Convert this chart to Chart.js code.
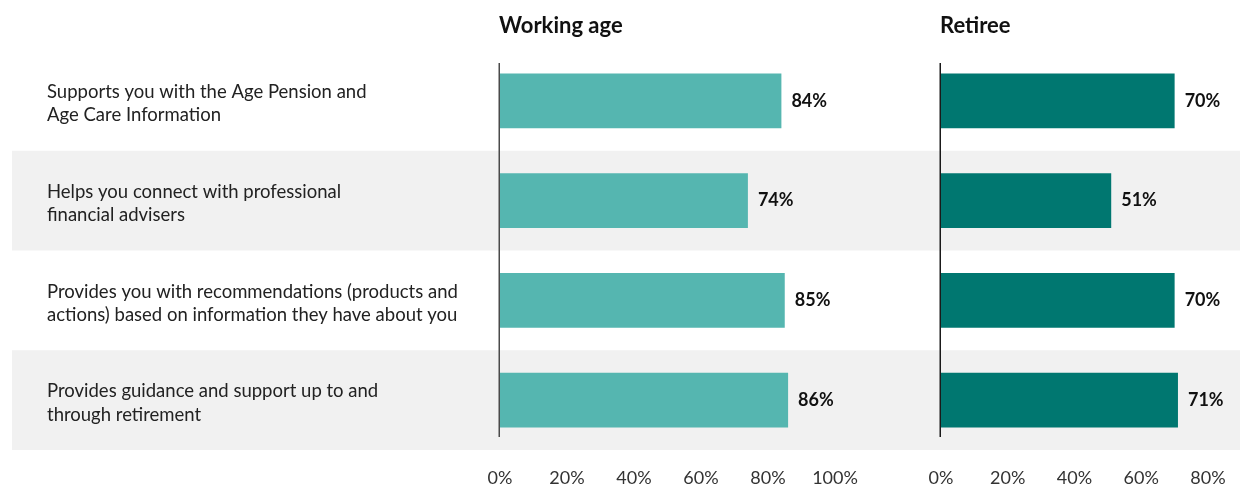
<!DOCTYPE html>
<html>
<head>
<meta charset="utf-8">
<script src="https://cdn.jsdelivr.net/npm/chart.js@4.4.1/dist/chart.umd.min.js"></script>
<style>
  html, body { margin: 0; padding: 0; background: #ffffff; }
  #wrap { position: relative; width: 1240px; height: 488px; overflow: hidden; }
  canvas { position: absolute; top: 0; }
  #working { left: 0; }
  #retiree { left: 880px; }
</style>
</head>
<body>
<div id="wrap">
  <canvas id="working" width="880" height="488"></canvas>
  <canvas id="retiree" width="360" height="488"></canvas>
</div>
<script>
// Statements about what a super fund should do, with share agreeing (%)
const categories = [
  ["Supports you with the Age Pension and", "Age Care Information"],
  ["Helps you connect with professional", "financial advisers"],
  ["Provides you with recommendations (products and", "actions) based on information they have about you"],
  ["Provides guidance and support up to and", "through retirement"]
];
const workingAge = [84, 74, 85, 86];
const retiree = [70, 51, 70, 71];
const workingTicks = [0, 20, 40, 60, 80, 100];
const retireeTicks = [0, 20, 40, 60, 80];

const FONT = "Lato, 'Open Sans', sans-serif";
const BAND = "#f1f1f1";

// Alternate grey row bands behind rows 2 and 4
function bandPlugin(startX) {
  return {
    id: "bands",
    beforeDraw(chart) {
      const { ctx, chartArea, scales } = chart;
      const y = scales.y;
      const step = (chartArea.bottom - chartArea.top) / categories.length;
      ctx.save();
      ctx.fillStyle = BAND;
      categories.forEach((_, i) => {
        if (i % 2 === 1) {
          const c = y.getPixelForValue(i);
          ctx.fillRect(startX, c - step / 2, chart.width - startX, step);
        }
      });
      ctx.restore();
    }
  };
}

// Panel heading, vertical baseline and value labels at bar ends
function panelPlugin(title, lineColor) {
  return {
    id: "panel",
    afterDatasetsDraw(chart) {
      const { ctx, chartArea } = chart;
      ctx.save();
      ctx.fillStyle = "#111";
      ctx.font = "bold 22px " + FONT;
      ctx.textAlign = "left";
      ctx.textBaseline = "middle";
      ctx.fillText(title, chartArea.left - 1, 26);

      ctx.strokeStyle = lineColor;
      ctx.lineWidth = 1.5;
      ctx.beginPath();
      ctx.moveTo(chartArea.left - 0.75, chartArea.top + 12);
      ctx.lineTo(chartArea.left - 0.75, chartArea.bottom - 13);
      ctx.stroke();

      const meta = chart.getDatasetMeta(0);
      const data = chart.data.datasets[0].data;
      ctx.font = "bold 18px " + FONT;
      ctx.fillStyle = "#111";
      meta.data.forEach((bar, i) => {
        ctx.fillText(data[i] + "%", bar.x + 10, bar.y);
      });
      ctx.restore();
    }
  };
}

function makeChart(id, values, color, max, ticks, opts) {
  return new Chart(document.getElementById(id), {
    type: "bar",
    data: {
      labels: categories,
      datasets: [{
        data: values,
        backgroundColor: color,
        borderWidth: 0,
        barPercentage: 0.55,
        categoryPercentage: 1
      }]
    },
    options: {
      indexAxis: "y",
      responsive: false,
      animation: false,
      layout: { padding: opts.padding },
      plugins: { legend: { display: false }, tooltip: { enabled: false }, title: { display: false } },
      scales: {
        x: {
          min: 0,
          max: max,
          afterBuildTicks(scale) { scale.ticks = ticks.map(v => ({ value: v })); },
          afterFit(scale) {
            scale.height = 38;
            scale.paddingLeft = 0;
            scale.paddingRight = 0;
          },
          grid: { display: false, drawTicks: false },
          border: { display: false },
          ticks: {
            padding: 17,
            color: "#333",
            font: { family: FONT, size: 18 },
            callback: v => v + "%"
          }
        },
        y: opts.yAxis
      }
    },
    plugins: [bandPlugin(opts.bandStart), panelPlugin(opts.title, opts.lineColor)]
  });
}

makeChart("working", workingAge, "#55b6b0", 100, workingTicks, {
  title: "Working age",
  lineColor: "#4a4a4a",
  bandStart: 12,
  padding: { top: 51, left: 47, right: 45, bottom: 0 },
  yAxis: {
    afterFit(scale) { scale.width = 453; },
    grid: { display: false, drawTicks: false },
    border: { display: false },
    ticks: {
      crossAlign: "far",
      padding: 0,
      labelOffset: 3,
      color: "#222",
      font: { family: FONT, size: 18.5, lineHeight: 1.26 }
    }
  }
});

makeChart("retiree", retiree, "#007770", 80, retireeTicks, {
  title: "Retiree",
  lineColor: "#1a1a1a",
  bandStart: 0,
  padding: { top: 51, left: 61, right: 32, bottom: 0 },
  yAxis: { display: false }
});
</script>
</body>
</html>
